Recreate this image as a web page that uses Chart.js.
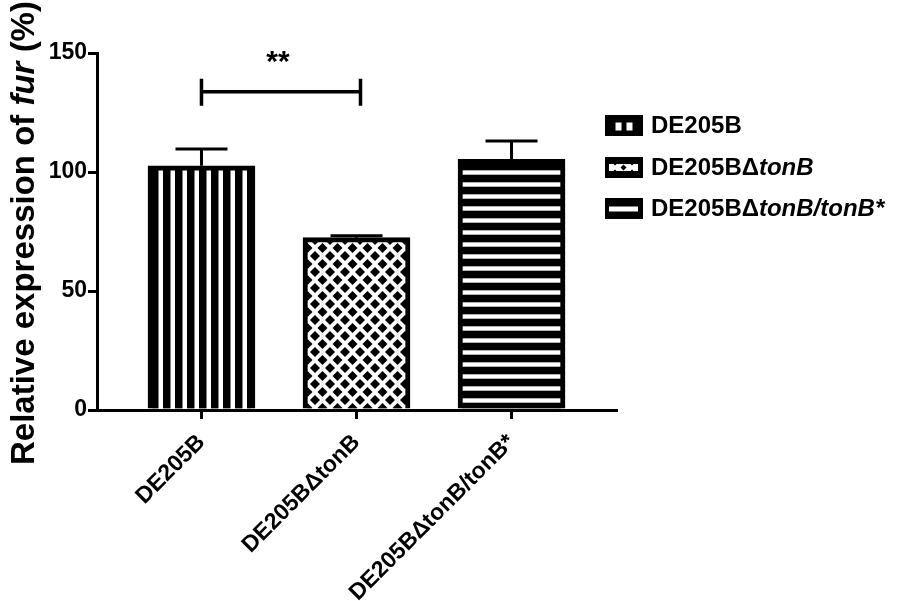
<!DOCTYPE html>
<html>
<head>
<meta charset="utf-8">
<script src="https://cdn.jsdelivr.net/npm/chart.js@4.4.1/dist/chart.umd.min.js"></script>
<style>
  html, body { margin: 0; padding: 0; background: #fff; }
  #wrap { width: 898px; height: 601px; }
</style>
</head>
<body>
<div id="wrap"><canvas id="fur-chart" width="898" height="601"></canvas></div>
<script>
// --- data ---
const categories = ['DE205B', 'DE205BΔtonB', 'DE205BΔtonB/tonB*'];
const values = [102.6, 72.4, 105.3];
const errors = [7.1, 0.8, 7.7];
const yTicks = [0, 50, 100, 150];
// legend text split into plain / italic pieces
const legendParts = [
  [['DE205B', false]],
  [['DE205BΔ', false], ['tonB', true]],
  [['DE205BΔ', false], ['tonB/tonB*', true]]
];
const titleParts = [['Relative expression of ', false], ['fur', true], [' (%)', false]];
const sigBars = [{ from: 0, to: 1, y: 133.7, label: '**' }];

const FONT = '"Liberation Sans", Arial, Helvetica, sans-serif';
const canvas = document.getElementById('fur-chart');
const ctx = canvas.getContext('2d');

function makePattern(w, h, draw) {
  const c = document.createElement('canvas');
  c.width = w; c.height = h;
  draw(c.getContext('2d'), w, h);
  return ctx.createPattern(c, 'repeat');
}

function diamond(g, x, y, r) {
  g.beginPath();
  g.moveTo(x, y - r); g.lineTo(x + r, y); g.lineTo(x, y + r); g.lineTo(x - r, y);
  g.closePath(); g.fill();
}

const vStripes = makePattern(12, 12, (g, w, h) => {
  g.fillStyle = '#000'; g.fillRect(0, 0, w, h);
  g.fillStyle = '#fff'; g.fillRect(2.5, 0, 4.5, h);
});
const hStripes = makePattern(12, 12, (g, w, h) => {
  g.fillStyle = '#000'; g.fillRect(0, 0, w, h);
  g.fillStyle = '#fff'; g.fillRect(0, 2.3, w, 4.4);
});
const crossHatch = makePattern(15, 16, (g, w, h) => {
  g.fillStyle = '#fff'; g.fillRect(0, 0, w, h);
  g.fillStyle = '#000';
  [[0, 0], [w, 0], [0, h], [w, h], [w / 2, h / 2]].forEach(p => diamond(g, p[0], p[1], 5));
});
const fills = [vStripes, crossHatch, hStripes];

function drawParts(g, parts, size, x, y) {
  parts.forEach(p => {
    g.font = (p[1] ? 'italic ' : '') + 'bold ' + size + 'px ' + FONT;
    g.fillText(p[0], x, y);
    x += g.measureText(p[0]).width;
  });
}

// error bars, significance bracket, y title and legend
const extras = {
  id: 'extras',
  afterDatasetsDraw(chart) {
    const g = chart.ctx;
    const xs = chart.scales.x, ys = chart.scales.y;
    g.save();
    g.strokeStyle = '#000';
    g.lineWidth = 3;
    values.forEach((v, i) => {
      const x = xs.getPixelForValue(i + 1);
      const y0 = ys.getPixelForValue(v);
      const y1 = ys.getPixelForValue(v + errors[i]);
      g.beginPath();
      g.moveTo(x, y0); g.lineTo(x, y1);
      g.moveTo(x - 26, y1); g.lineTo(x + 26, y1);
      g.stroke();
    });

    sigBars.forEach(s => {
      const xa = xs.getPixelForValue(s.from + 1);
      const xb = xs.getPixelForValue(s.to + 1) + 4;
      const y = ys.getPixelForValue(s.y);
      g.lineWidth = 3.5;
      g.beginPath();
      g.moveTo(xa, y); g.lineTo(xb, y);
      g.moveTo(xa, y - 13); g.lineTo(xa, y + 14);
      g.moveTo(xb, y - 13); g.lineTo(xb, y + 14);
      g.stroke();
      g.fillStyle = '#000';
      g.font = 'bold 30px ' + FONT;
      g.textAlign = 'center';
      g.textBaseline = 'alphabetic';
      g.fillText(s.label, (xa + xb) / 2 - 3, y - 21);
    });

    // y axis title
    g.save();
    g.translate(34, 465);
    g.rotate(-Math.PI / 2);
    g.fillStyle = '#000';
    g.textAlign = 'left';
    g.textBaseline = 'alphabetic';
    drawParts(g, titleParts, 33, 0, 0);
    g.restore();

    // legend
    const boxX = 605, boxW = 38, boxH = 21;
    const rowY = [115, 157, 198];
    g.textAlign = 'left';
    g.textBaseline = 'middle';
    rowY.forEach((top, i) => {
      g.fillStyle = '#000';
      g.fillRect(boxX, top, boxW, boxH);
      g.fillStyle = '#fff';
      if (i === 0) {
        g.fillRect(boxX + 10.5, top + 7.5, 6, 8);
        g.fillRect(boxX + 21.5, top + 7.5, 6, 8);
      } else if (i === 1) {
        g.fillRect(boxX + 4, top + 7, 29, 7);
        g.fillStyle = '#000';
        diamond(g, boxX + 18.5, top + 10.5, 3);
        diamond(g, boxX + 10, top + 6, 2.5);
        diamond(g, boxX + 27, top + 6, 2.5);
        diamond(g, boxX + 10, top + 15, 2.5);
        diamond(g, boxX + 27, top + 15, 2.5);
      } else {
        g.fillRect(boxX + 4, top + 8.5, 29, 5);
      }
      g.fillStyle = '#000';
      drawParts(g, legendParts[i], 24, 651, top + boxH / 2 + 1);
    });
    g.restore();
  }
};

new Chart(canvas, {
  type: 'bar',
  data: {
    datasets: [{
      data: values.map((v, i) => ({ x: i + 1, y: v })),
      backgroundColor: fills,
      borderColor: '#000',
      borderWidth: 5,
      barThickness: 107
    }]
  },
  options: {
    responsive: false,
    animation: false,
    layout: { padding: { top: 53, right: 282, left: 0, bottom: 0 } },
    plugins: { legend: { display: false }, tooltip: { enabled: false } },
    scales: {
      x: {
        type: 'linear',
        offset: false,
        min: 0.326,
        max: 3.674,
        afterBuildTicks: s => { s.ticks = categories.map((c, i) => ({ value: i + 1 })); },
        afterFit: s => { s.height = 191; },
        grid: { offset: false, drawOnChartArea: false, drawTicks: true, tickLength: 9, tickColor: '#000', lineWidth: 3 },
        border: { color: '#000', width: 3 },
        ticks: {
          autoSkip: false,
          minRotation: 45,
          maxRotation: 45,
          padding: 10,
          color: '#000',
          font: { family: FONT, size: 23, weight: 'bold' },
          callback: v => categories[v - 1]
        }
      },
      y: {
        min: 0,
        max: 150,
        afterBuildTicks: s => { s.ticks = yTicks.map(v => ({ value: v })); },
        afterFit: s => { s.width = 97; },
        grid: { drawOnChartArea: false, drawTicks: true, tickLength: 9, tickColor: '#000', lineWidth: 3 },
        border: { color: '#000', width: 3 },
        ticks: {
          padding: 1,
          color: '#000',
          font: { family: FONT, size: 23, weight: 'bold' }
        }
      }
    }
  },
  plugins: [extras]
});
</script>
</body>
</html>
